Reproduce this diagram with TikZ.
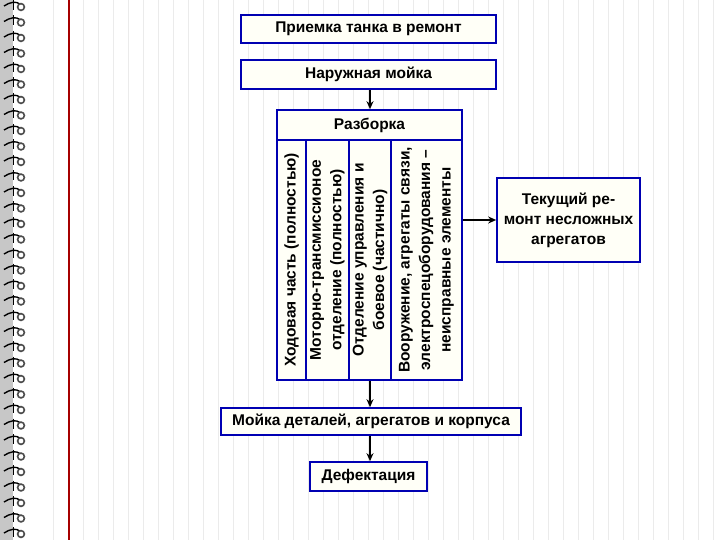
\documentclass[tikz,border=0pt]{standalone}
\usepackage{fontspec}
\setmainfont{Liberation Sans}
\usetikzlibrary{arrows.meta}
\begin{document}
\begin{tikzpicture}[x=1pt,y=-1pt,
  box/.style={draw=blue!70!black,line width=1.6pt,fill=yellow!3,font=\bfseries\fontsize{15.5}{18}\selectfont,inner sep=0pt,align=center},
  col/.style={draw=blue!70!black,line width=1.6pt,fill=yellow!3,font=\bfseries\fontsize{15.5}{20.5}\selectfont,inner sep=0pt,align=center},
  arr/.style={line width=1.8pt,-{Stealth[length=8pt,width=7pt]}}]
\useasboundingbox (0,0) rectangle (720,540);
\fill[white] (0,0) rectangle (720,540);
\foreach \x in {83,98,...,720} \draw[black!8,line width=0.8pt] (\x,0) -- (\x,540);
\draw[black!8,line width=0.8pt] (53,0) -- (53,540);
\draw[red!65!black,line width=1.3pt] (69,0) -- (69,540);
\fill[black!22] (0,0) rectangle (13,540);
\foreach \y in {0,15.5,...,540}{
  \draw[black,line width=1.4pt] (4,\y+6) .. controls (10,\y+2) and (16,\y+1) .. (20,\y+4);
  \draw[black!70,line width=1.6pt] (21,\y+7) circle (3.4);
  \draw[black,line width=1pt] (13,\y) -- (13,\y+10);
}
\node[box,minimum width=255pt,minimum height=28pt] (a) at (368.5,29) {Приемка танка в ремонт};
\node[box,minimum width=255pt,minimum height=29pt] (b) at (368.5,74.5) {Наружная мойка};
\node[box,minimum width=185pt,minimum height=30pt] (c) at (369.5,125) {Разборка};
\node[col,minimum width=240pt,minimum height=29pt,rotate=90] (c1) at (291.5,260) {Ходовая часть (полностью)};
\node[col,minimum width=240pt,minimum height=43pt,rotate=90] (c2) at (327.5,260) {Моторно-трансмиссионое\\отделение (полностью)};
\node[col,minimum width=240pt,minimum height=42pt,rotate=90] (c3) at (370,260) {Отделение управления и\\боевое (частично)};
\node[col,minimum width=240pt,minimum height=71pt,rotate=90] (c4) at (426.5,260) {Вооружение, агрегаты связи,\\электроспецоборудования –\\неисправные элементы};
\node[box,minimum width=143pt,minimum height=84pt,font=\bfseries\fontsize{15.5}{20}\selectfont] (d) at (568.5,220) {Текущий ре-\\монт несложных\\агрегатов};
\node[box,minimum width=300pt,minimum height=27pt] (e) at (371,421.5) {Мойка деталей, агрегатов и корпуса};
\node[box,minimum width=117pt,minimum height=29pt] (f) at (368.5,476.5) {Дефектация};
\draw[arr] (b.south -| 370,0) -- (c.north -| 370,0);
\draw[arr] (c4.south |- d.west) -- (d.west);
\draw[arr] (c3.west) -- (e.north -| c3.west);
\draw[arr] (e.south -| c3.west) -- (f.north -| c3.west);
\end{tikzpicture}
\end{document}
